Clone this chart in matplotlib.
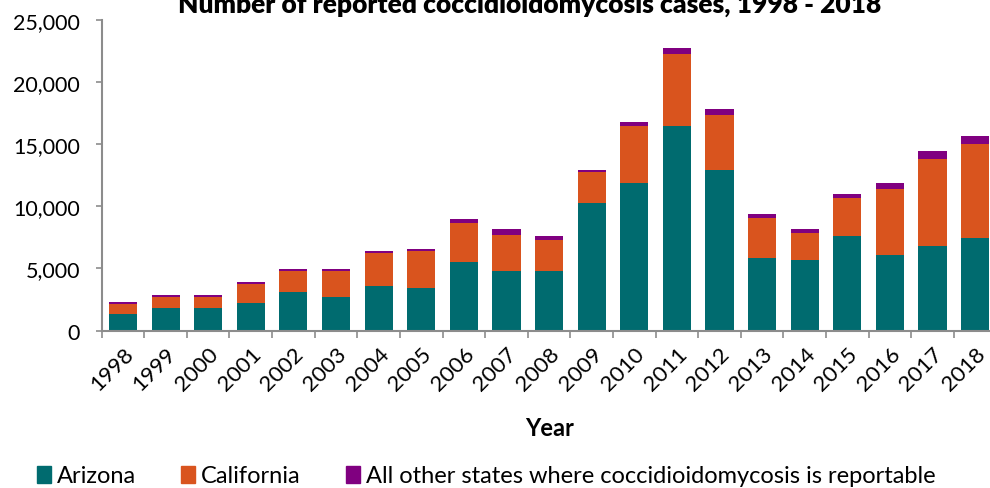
import matplotlib
matplotlib.use("Agg")
import matplotlib.pyplot as plt
from matplotlib.patches import Patch
import numpy as np

plt.rcParams['font.family'] = ['Lato', 'DejaVu Sans']

# data (stack tops)
years = ['1998', '1999', '2000', '2001', '2002', '2003', '2004', '2005', '2006', '2007', '2008',
         '2009', '2010', '2011', '2012', '2013', '2014', '2015', '2016', '2017', '2018']
arizona = [1340, 1825, 1825, 2230, 3110, 2730, 3590, 3430, 5520, 4800, 4800,
           10270, 11890, 16460, 12920, 5840, 5680, 7610, 6090, 6810, 7450]
california = [810, 885, 885, 1525, 1690, 2070, 2650, 2970, 3140, 2890, 2490,
              2490, 4570, 5790, 4420, 3220, 2170, 3060, 5310, 6990, 7560]
other = [160, 160, 160, 160, 160, 160, 160, 160, 320, 480, 320,
         160, 320, 480, 480, 320, 320, 320, 480, 640, 640]

c_az = '#006B6F'
c_ca = '#D9541E'
c_ot = '#800080'

fig = plt.figure(figsize=(9.9, 4.89), dpi=100)
ax = fig.add_axes([0.1027, 0.3217, 0.9038, 0.636])

x = np.arange(len(years))
w = 0.66
az = np.array(arizona)
ca = np.array(california)
ot = np.array(other)
ax.bar(x, az, w, color=c_az)
ax.bar(x, ca, w, bottom=az, color=c_ca)
ax.bar(x, ot, w, bottom=az + ca, color=c_ot)

ax.set_xlim(-0.5, len(years) - 0.5)
ax.set_ylim(0, 25000)
ax.set_yticks(range(0, 25001, 5000))
ax.set_yticklabels(['{:,}'.format(v) for v in range(0, 25001, 5000)], fontsize=15.5)

ax.set_xticks(x)
ax.set_xticklabels(years, fontsize=16, rotation=45, ha='right', rotation_mode='anchor')
ax.set_xticks(np.arange(-0.5, len(years)), minor=True)
ax.tick_params(axis='x', which='major', length=0, pad=9)
ax.tick_params(axis='x', which='minor', length=5, width=1.2, color='#8c8c8c')
ax.tick_params(axis='y', length=4.5, width=1.2, color='#8c8c8c', pad=11)

for s in ['top', 'right']:
    ax.spines[s].set_visible(False)
for s in ['left', 'bottom']:
    ax.spines[s].set_color('#8c8c8c')
    ax.spines[s].set_linewidth(1.5)

ax.set_xlabel('Year', fontsize=17, fontweight='bold', labelpad=16)

fig.text(530 / 990, 1 - 13 / 489, 'Number of reported coccidioidomycosis cases, 1998 - 2018',
         ha='center', va='baseline', fontsize=19, fontweight='heavy')

handles = [Patch(color=c_az), Patch(color=c_ca), Patch(color=c_ot)]
labels = ['Arizona', 'California', 'All other states where coccidioidomycosis is reportable']
fig.legend(handles, labels, loc='center left', bbox_to_anchor=(37 / 990, 1 - 477 / 489),
           ncol=3, frameon=False, fontsize=17, handlelength=0.6, handleheight=0.7,
           handletextpad=0.25, columnspacing=1.9, borderpad=0, borderaxespad=0)

fig.savefig('out.png', dpi=100)
